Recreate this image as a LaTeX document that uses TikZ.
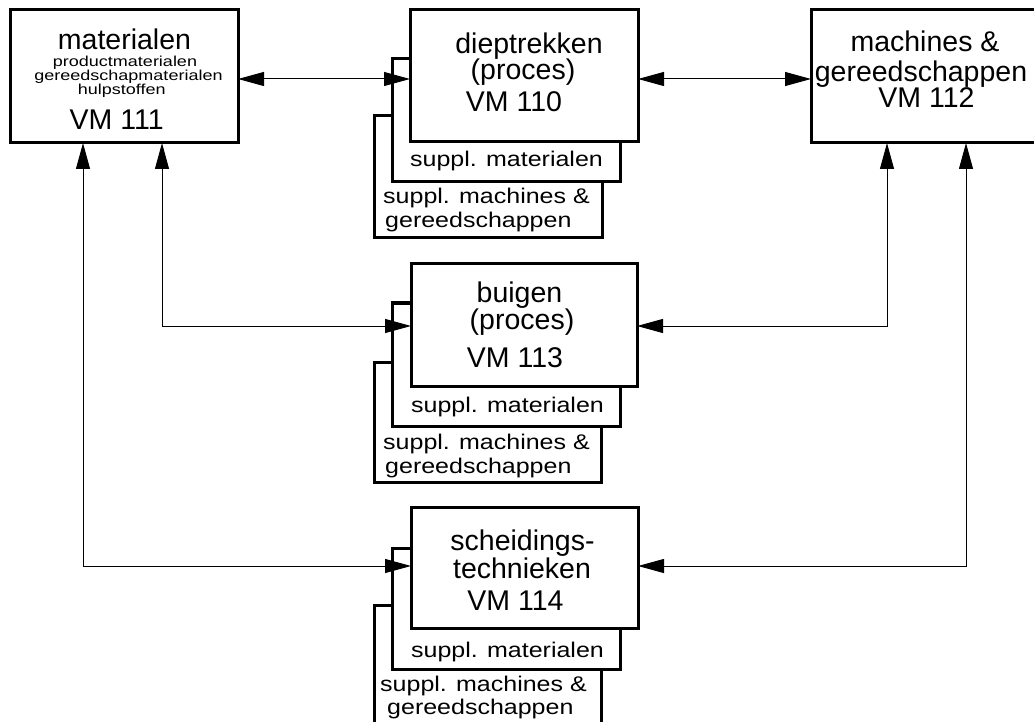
\documentclass[tikz,border=0pt]{standalone}
\usepackage{fontspec}
\setmainfont{Liberation Sans}
\usepackage{graphicx}
\usetikzlibrary{arrows.meta}
\newcommand{\sqz}[1]{\scalebox{1}[0.85]{#1}}
\newcommand{\sqt}[1]{\scalebox{1}[0.8]{#1}}
\begin{document}
\begin{tikzpicture}[x=1pt,y=-1pt,
  box/.style={draw, line width=3pt, fill=white, inner sep=0pt, outer sep=0pt, anchor=north west},
  big/.style={font=\fontsize{28.5}{30}\selectfont, inner sep=0pt, anchor=base},
  small/.style={font=\fontsize{25}{27}\selectfont, inner sep=0pt, anchor=base},
  smallw/.style={font=\fontsize{25}{27}\selectfont, inner sep=0pt, anchor=base west},
  tiny/.style={font=\fontsize{18}{18}\selectfont, inner sep=0pt, anchor=base},
  conn/.style={line width=1pt, {Triangle[length=26pt,width=14pt]}-{Triangle[length=26pt,width=14pt]}}]
\useasboundingbox (0,0) rectangle (1034,722);
\fill[white] (0,0) rectangle (1034,722);
\begin{scope}
\clip (0,0) rectangle (1034,722);
% left and right boxes
\node[box, minimum width=228pt, minimum height=133pt] (mat) at (10,10) {};
\node[box, minimum width=240pt, minimum height=133pt] (mg) at (811,10) {};
% dieptrekken stack
\node[box, minimum width=228pt, minimum height=122pt] (dtg) at (374,116) {};
\node[box, minimum width=228pt, minimum height=123pt] (dtm) at (392,59) {};
\node[box, minimum width=228pt, minimum height=132pt] (dt) at (410,10) {};
% buigen stack
\node[box, minimum width=227pt, minimum height=120pt] (bgg) at (374,362) {};
\node[box, minimum width=228pt, minimum height=123pt] (bgm) at (392,303) {};
\node[box, minimum width=226pt, minimum height=122pt] (bg) at (411,264) {};
% scheidings stack
\node[box, minimum width=227pt, minimum height=140pt] (scg) at (374,605) {};
\node[box, minimum width=228pt, minimum height=121pt] (scm) at (392,548) {};
\node[box, minimum width=227pt, minimum height=121pt] (sc) at (411,507) {};
\end{scope}
% texts: materialen
\node[big] (t1) at (124.5,50) {materialen};
\node[tiny] (t2) at (125,67) {\sqt{productmaterialen}};
\node[tiny] (t3) at (128.5,80.5) {\sqt{gereedschapmaterialen}};
\node[tiny] (t4) at (121.7,94.5) {\sqt{hulpstoffen}};
\node[big] (t5) at (116.7,130) {VM 111};
% machines
\node[big] (t6) at (925,52) {machines \&};
\node[big] (t7) at (921,82) {gereedschappen};
\node[big] (t8) at (926.5,108) {VM 112};
% dieptrekken
\node[big] (t9) at (529,53.5) {dieptrekken};
\node[big] (t10) at (523,80) {(proces)};
\node[big] (t11) at (514,112) {VM 110};
\node[small] (t12) at (506.5,167) {\sqz{suppl. materialen}};
\node[smallw] (t13) at (383,204) {\sqz{suppl. machines \&}};
\node[smallw] (t14) at (385,228) {\sqz{gereedschappen}};
% buigen
\node[big] (t15) at (519.5,302) {buigen};
\node[big] (t16) at (522,330) {(proces)};
\node[big] (t17) at (515,367) {VM 113};
\node[small] (t18) at (507.5,412) {\sqz{suppl. materialen}};
\node[smallw] (t19) at (383,449) {\sqz{suppl. machines \&}};
\node[smallw] (t20) at (385,473) {\sqz{gereedschappen}};
% scheidings
\node[big] (t21) at (522.5,550) {scheidings-};
\node[big] (t22) at (522,578) {technieken};
\node[big] (t23) at (515.5,610) {VM 114};
\node[small] (t24) at (507.5,657) {\sqz{suppl. materialen}};
\node[smallw] (t25) at (380,691) {\sqz{suppl. machines \&}};
\node[smallw] (t26) at (387,714) {\sqz{gereedschappen}};
% connectors
\coordinate (r1) at (0,79);
\coordinate (a1) at (83,566);
\coordinate (a2) at (162,326);
\coordinate (a3) at (887,326);
\coordinate (a4) at (966,566);
\draw[conn] (mat.east |- r1) -- (dt.west |- r1);
\draw[conn] (dt.east |- r1) -- (mg.west |- r1);
\draw[conn] (mat.south -| a2) -- (a2) -- (bg.west |- a2);
\draw[conn] (mat.south -| a1) -- (a1) -- (sc.west |- a1);
\draw[conn] (mg.south -| a3) -- (a3) -- (bg.east |- a3);
\draw[conn] (mg.south -| a4) -- (a4) -- (sc.east |- a4);
\end{tikzpicture}
\end{document}
